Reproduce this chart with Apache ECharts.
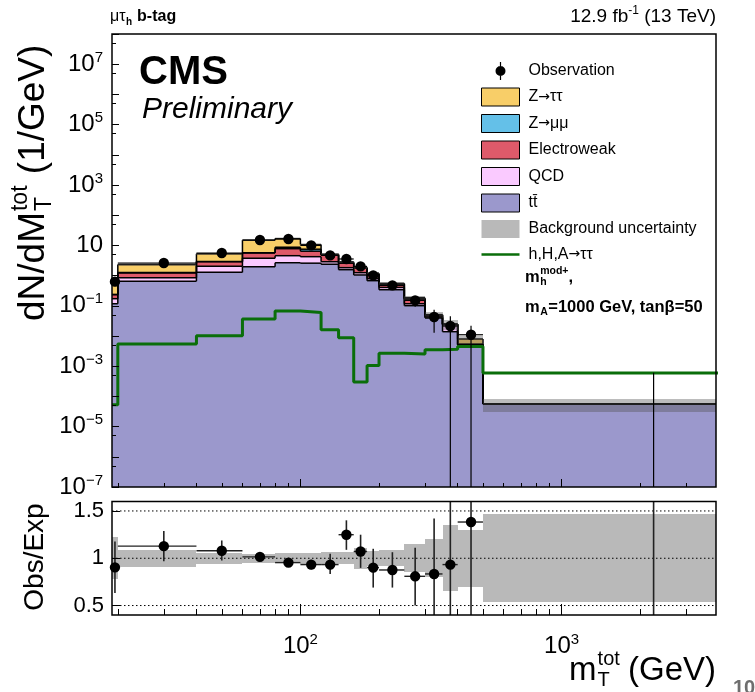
<!DOCTYPE html>
<html><head><meta charset="utf-8">
<script src="https://cdn.jsdelivr.net/npm/echarts@6/dist/echarts.min.js"></script>
<style>html,body{margin:0;padding:0;background:#fff}#c{width:755px;height:692px}</style>
</head><body><div id="c"></div>
<script>
// ---------------- data ----------------
const binEdges = [19, 20, 40, 60, 80, 100, 120, 140, 160, 180, 200, 250, 300, 350, 400, 500, 4000];
const ttbar = [0.117, 0.653, 1.28, 1.97, 2.67, 2.58, 2.38, 1.57, 1.05, 0.68, 0.341, 0.101, 0.0394, 0.0139, 0.00496, 5.5e-5];
const qcd   = [0.055, 0.20, 0.77, 1.80, 1.89, 1.65, 0.50, 0.26, 0.20, 0.11, 0.065, 0.016, 0.003, 0.0098, 0.0001, 5e-7];
const ewk   = [0.061, 0.37, 0.83, 1.80, 3.22, 2.20, 1.85, 0.75, 0.51, 0.30, 0.105, 0.049, 0.006, 0.0006, 0.0002, 5e-7];
const zmm   = [0.005, 0.047, 0.07, 0.16, 0.92, 1.05, 0.12, 0.08, 0.04, 0.03, 0.012, 0.006, 0.0006, 0.0002, 0.0001, 2e-7];
const ztt   = [0.46, 1.08, 2.30, 9.17, 8.1, 3.2, 0.25, 0.20, 0.10, 0.08, 0.027, 0.014, 0.002, 0.0005, 0.0026, 3e-7];
const bkgUnc = [0.22, 0.09, 0.06, 0.045, 0.055, 0.06, 0.065, 0.065, 0.11, 0.08, 0.085, 0.15, 0.2, 0.35, 0.3, 0.465];
const signal = [5.3e-5, 5.4e-3, 0.0102, 0.0366, 0.0673, 0.0604, 0.0162, 0.0088, 3.0e-4, 1.06e-3, 2.67e-3, 2.53e-3, 3.5e-3, 3.65e-3, 4.5e-3, 5.9e-4];
const obs     = [0.63, 2.61, 5.6, 15.1, 16.3, 10.0, 4.67, 3.55, 2.02, 1.02, 0.473, 0.151, 0.0426, 0.0214, 0.0110, 0];
const obsLow  = [0.44, 2.28, 5.12, 14.5, 15.8, 9.5, 4.25, 3.1, 1.7, 0.83, 0.38, 0.093, 0.0129, 0, 0, 0];
const obsHigh = [0.82, 3.02, 6.24, 15.7, 16.8, 10.5, 5.34, 4.0, 2.37, 1.32, 0.585, 0.206, 0.074, 0.0447, 0.0219, 0.00061];
const ratio     = [0.904, 1.128, 1.079, 1.015, 0.954, 0.933, 0.933, 1.249, 1.071, 0.901, 0.876, 0.809, 0.834, 0.933, 1.383, 0];
const ratioLow  = [0.632, 0.968, 0.976, 0.975, 0.925, 0.883, 0.834, 1.089, 0.898, 0.69, 0.69, 0.50, 0.25, 0, 0, 0];
const ratioHigh = [1.178, 1.287, 1.188, 1.055, 0.985, 0.983, 1.047, 1.401, 1.249, 1.10, 1.064, 1.11, 1.42, 1.8, 2.7, 10];
const xMajorTicks = [100, 1000];
const xMinorTicks = [20, 30, 40, 50, 60, 70, 80, 90, 200, 300, 400, 500, 600, 700, 800, 900, 2000, 3000];
const yMajorTicks = [1e-7, 1e-6, 1e-5, 1e-4, 1e-3, 1e-2, 1e-1, 1, 10, 1e2, 1e3, 1e4, 1e5, 1e6, 1e7, 1e8];
const yMinorTicks = [5e-7, 5e-6, 5e-5, 5e-4, 5e-3, 5e-2, 0.5, 5, 50, 5e2, 5e3, 5e4, 5e5, 5e6, 5e7];
const yTickLabels = [1e7, 1e5, 1e3, 10, 1e-1, 1e-3, 1e-5, 1e-7];
const ratioTickLabels = [0.5, 1, 1.5];
const ratioRefLines = [0.5, 1, 1.5];
const layerNames = ['tt\u0304', 'QCD', 'Electroweak', 'Z\u2192\u03bc\u03bc', 'Z\u2192\u03c4\u03c4'];
const layerColors = ['#9b98cc', '#facaff', '#de5a6a', '#64c0e8', '#f8ce68'];

// ---------------- setup ----------------
const FONT = "'Liberation Sans', Arial, Helvetica, sans-serif";
const XMIN = 19, XMAX = 3900, YMIN = 1e-7, YMAX = 1e8, RMIN = 0.4, RMAX = 1.6;
const nb = binEdges.length - 1;
const layers = [ttbar, qcd, ewk, zmm, ztt];
const cum = [];
let run = new Array(nb).fill(0);
layers.forEach(arr => { run = run.map((v, i) => v + arr[i]); cum.push(run.slice()); });
const total = cum[cum.length - 1];
const cx = v => Math.min(Math.max(v, XMIN), XMAX);
const center = i => (binEdges[i] + binEdges[i + 1]) / 2;
const R = Math.round;

const mctx = document.createElement('canvas').getContext('2d');
function tw(t, size, weight) { mctx.font = (weight || 'normal') + ' ' + size + 'px ' + FONT; return mctx.measureText(t).width; }

function boxFrom(a, b) {
  const x0 = R(a[0]), x1 = R(b[0]), y0 = R(a[1]), y1 = R(b[1]);
  return { x: x0, y: y0, width: x1 - x0, height: y1 - y0 };
}

function layerRender(k) {
  return function (params, api) {
    const i = api.value(2);
    const x0 = cx(binEdges[i]), x1 = cx(binEdges[i + 1]);
    const lo = k === 0 ? YMIN : cum[k - 1][i];
    const hi = cum[k][i];
    const a = api.coord([x0, hi]), b = api.coord([x1, lo]);
    const ch = [
      { type: 'rect', z2: 0, shape: boxFrom(a, b), style: { fill: api.visual('color') } },
      { type: 'line', z2: 10, shape: { x1: a[0], y1: a[1], x2: b[0], y2: a[1] }, style: { stroke: '#000', lineWidth: 1.5 } }
    ];
    if (i > 0) {
      const p = api.coord([x0, cum[k][i - 1]]);
      ch.push({ type: 'line', z2: 10, shape: { x1: a[0], y1: p[1], x2: a[0], y2: a[1] }, style: { stroke: '#000', lineWidth: 1.5 } });
    }
    return { type: 'group', children: ch };
  };
}

function obsRender(vals, lows, highs, ymin, ymax, r, vw, hw, vcol) {
  return function (params, api) {
    const i = api.value(2);
    const xc = center(i);
    const lo = Math.max(lows[i], ymin), hi = Math.min(highs[i], ymax);
    const a = api.coord([xc, lo]), b = api.coord([xc, hi]);
    const ch = [{ type: 'line', shape: { x1: a[0], y1: a[1], x2: b[0], y2: b[1] }, style: { stroke: vcol, lineWidth: vw } }];
    const v = vals[i];
    if (v > ymin && v < ymax) {
      const l = api.coord([cx(binEdges[i]), v]), rr = api.coord([cx(binEdges[i + 1]), v]);
      ch.push({ type: 'line', shape: { x1: l[0], y1: l[1], x2: rr[0], y2: rr[1] }, style: { stroke: vcol, lineWidth: hw } });
      const p = api.coord([xc, v]);
      ch.push({ type: 'circle', shape: { cx: p[0], cy: p[1], r: r }, style: { fill: '#000' } });
    }
    return { type: 'group', children: ch };
  };
}

const series = [];
layers.forEach((arr, k) => {
  series.push({
    type: 'custom', name: layerNames[k], xAxisIndex: 0, yAxisIndex: 0, z: 2,
    itemStyle: { color: layerColors[k] },
    encode: { x: 0, y: 1 },
    data: binEdges.slice(0, -1).map((e, i) => [center(i), cum[k][i], i]),
    renderItem: layerRender(k), silent: true
  });
});
series.push({
  type: 'custom', name: 'Background uncertainty', xAxisIndex: 0, yAxisIndex: 0, z: 3,
  itemStyle: { color: 'rgba(80,80,80,0.38)' }, encode: { x: 0, y: 1 }, silent: true,
  data: binEdges.slice(0, -1).map((e, i) => [center(i), total[i], i]),
  renderItem: function (params, api) {
    const i = api.value(2);
    const a = api.coord([cx(binEdges[i]), total[i] * (1 + bkgUnc[i])]);
    const b = api.coord([cx(binEdges[i + 1]), total[i] * (1 - bkgUnc[i])]);
    return { type: 'rect', shape: boxFrom(a, b), style: { fill: 'rgba(80,80,80,0.38)' } };
  }
});
const sigData = binEdges.slice(0, -1).map((e, i) => [e, signal[i]]);
sigData.push([binEdges[nb], signal[nb - 1]]);
series.push({
  type: 'line', name: 'h,H,A\u2192\u03c4\u03c4', xAxisIndex: 0, yAxisIndex: 0, z: 4, step: 'end',
  symbol: 'none', showSymbol: false, data: sigData, silent: true,
  lineStyle: { color: '#0a6e0a', width: 3 }, itemStyle: { color: '#0a6e0a' }
});
series.push({
  type: 'custom', name: 'Observation', xAxisIndex: 0, yAxisIndex: 0, z: 5, silent: true,
  itemStyle: { color: '#000' }, encode: { x: 0, y: 1 },
  data: binEdges.slice(0, -1).map((e, i) => [center(i), obs[i] > 0 ? obs[i] : YMIN, i]),
  renderItem: obsRender(obs, obsLow, obsHigh, YMIN, YMAX, 5.2, 1.2, 1.2, '#000')
});
// ratio panel
series.push({
  type: 'custom', name: 'ratioBand', xAxisIndex: 2, yAxisIndex: 2, z: 2, silent: true,
  itemStyle: { color: '#b9b9b9' }, encode: { x: 0, y: 1 },
  data: binEdges.slice(0, -1).map((e, i) => [center(i), 1, i]),
  renderItem: function (params, api) {
    const i = api.value(2);
    const a = api.coord([cx(binEdges[i]), Math.min(1 + bkgUnc[i], RMAX)]);
    const b = api.coord([cx(binEdges[i + 1]), Math.max(1 - bkgUnc[i], RMIN)]);
    return { type: 'rect', shape: boxFrom(a, b), style: { fill: '#b9b9b9' } };
  }
});
ratioRefLines.forEach(v => {
  series.push({
    type: 'line', name: 'ref' + v, xAxisIndex: 2, yAxisIndex: 2, z: 3, silent: true, symbol: 'none',
    data: [[XMIN, v], [XMAX, v]], lineStyle: { color: '#000', width: 1, type: [1.5, 2.5] }
  });
});
series.push({
  type: 'custom', name: 'ratioObs', xAxisIndex: 2, yAxisIndex: 2, z: 5, silent: true,
  itemStyle: { color: '#000' }, encode: { x: 0, y: 1 },
  data: binEdges.slice(0, -1).map((e, i) => [center(i), ratio[i], i]),
  renderItem: obsRender(ratio, ratioLow, ratioHigh, RMIN, RMAX, 5.2, 1.6, 1.4, '#222')
});

// ---------------- axes ----------------
const richTick = { b: { fontSize: 24, fontFamily: FONT, color: '#000', lineHeight: 28 }, s: { fontSize: 15, fontFamily: FONT, color: '#000', verticalAlign: 'top', lineHeight: 15 } };
function xAx(grid, ticks, len, labels) {
  return {
    type: 'log', logBase: 10, gridIndex: grid, position: 'bottom', min: XMIN, max: XMAX, z: 20,
    axisLine: { show: false }, splitLine: { show: false },
    axisTick: { show: true, inside: true, length: len, customValues: ticks, lineStyle: { color: '#000', width: 1 } },
    axisLabel: labels ? {
      show: true, customValues: labels, margin: 17,
      formatter: v => '{b|10}{s|' + Math.round(Math.log10(v)) + '}', rich: richTick
    } : { show: false }
  };
}
function yLog(ticks, len, labels) {
  return {
    type: 'log', logBase: 10, gridIndex: 0, position: 'left', min: YMIN, max: YMAX, z: 20,
    axisLine: { show: false }, splitLine: { show: false },
    axisTick: { show: true, inside: true, length: len, customValues: ticks, lineStyle: { color: '#000', width: 1 } },
    axisLabel: labels ? {
      show: true, customValues: labels, margin: 9,
      formatter: v => { const e = Math.round(Math.log10(v)); return e === 1 ? '{b|10}' : '{b|10}{s|' + (e < 0 ? '\u2212' + (-e) : e) + '}'; },
      rich: richTick
    } : { show: false }
  };
}

// ---------------- texts ----------------
const graphics = [];
function txt(t, x, y, size, opts) {
  opts = opts || {};
  return { type: 'text', x: x, y: y, silent: true, style: { text: t, fill: opts.fill || '#000', font: (opts.style || 'normal') + ' ' + (opts.weight || 'normal') + ' ' + size + 'px ' + FONT, align: opts.align || 'left', verticalAlign: 'middle' } };
}
graphics.push(txt('CMS', 139, 72.5, 40, { weight: 'bold' }));
graphics.push(txt('Preliminary', 142, 110, 30, { style: 'italic' }));
(function () {
  let x = 110; const y = 17;
  graphics.push(txt('\u03bc\u03c4', x, y, 16)); x += tw('\u03bc\u03c4', 16);
  graphics.push(txt('h', x + 0.5, y + 5, 10, { weight: 'bold' })); x += tw('h', 10, 'bold') + 1;
  graphics.push(txt(' b-tag', x, y, 16, { weight: 'bold' }));
})();
(function () {
  const y = 17, F = 19, S = 12;
  const p1 = '12.9 fb', p2 = '-1', p3 = ' (13 TeV)';
  const w3 = tw(p3, F), w2 = tw(p2, S), w1 = tw(p1, F);
  let x = 716 - w3 - w2 - w1;
  graphics.push(txt(p1, x, y, F)); x += w1;
  graphics.push(txt(p2, x, y - 6, S)); x += w2;
  graphics.push(txt(p3, x, y, F));
})();
(function () {
  const F = 37, S = 23;
  const parts = [];
  const w1 = tw('dN/dM', F);
  parts.push(txt('dN/dM', 0, 0, F));
  parts.push(txt('tot', w1 + 1, -F * 0.36, S));
  parts.push(txt('T', w1 + 1, F * 0.3, S));
  const w2 = Math.max(tw('tot', S), tw('T', S));
  parts.push(txt(' (1/GeV)', w1 + w2 + 2, 0, F));
  graphics.push({ type: 'group', x: 34, y: 321, rotation: Math.PI / 2, children: parts });
})();
graphics.push({ type: 'group', x: 35, y: 557, rotation: Math.PI / 2, children: [txt('Obs/Exp', 0, 0, 28, { align: 'center' })] });
(function () {
  const F = 33, S = 20, y = 671;
  const wm = tw('m', F), ws = Math.max(tw('tot', S), tw('T', S)), wg = tw(' (GeV)', F);
  let x = 716 - wm - ws - wg;
  graphics.push(txt('m', x, y, F)); x += wm + 1;
  graphics.push(txt('tot', x, y - F * 0.36, S));
  graphics.push(txt('T', x, y + F * 0.3, S)); x += ws - 1;
  graphics.push(txt(' (GeV)', x, y, F));
})();
(function () {
  const F = 16.5, S = 10.5;
  let x = 525, y = 277;
  graphics.push(txt('m', x, y, F, { weight: 'bold' })); x += tw('m', F, 'bold') + 0.5;
  graphics.push(txt('mod+', x, y - 6, S, { weight: 'bold' }));
  graphics.push(txt('h', x, y + 5, S, { weight: 'bold' }));
  x += tw('mod+', S, 'bold');
  graphics.push(txt(',', x, y, F, { weight: 'bold' }));
  x = 525; y = 307;
  graphics.push(txt('m', x, y, F, { weight: 'bold' })); x += tw('m', F, 'bold') + 0.5;
  graphics.push(txt('A', x, y + 5, S, { weight: 'bold' })); x += tw('A', S, 'bold') + 0.5;
  graphics.push(txt('=1000 GeV, tan\u03b2=50', x, y, F, { weight: 'bold' }));
})();
graphics.push(txt('10', 733, 688, 20, { weight: 'bold', fill: '#6e6e6e' }));

// ---------------- legend ----------------
const obsIcon = 'path://M0,9L0.01,9ZM38,9L37.99,9ZM18.4,0L19.6,0L19.6,18L18.4,18ZM24,9A5,5,0,1,1,14,9A5,5,0,1,1,24,9Z';
const lineIcon = 'path://M0,0L0.01,0ZM0,18L0.01,18ZM0,7.7L38,7.7L38,10.3L0,10.3Z';

const option = {
  animation: false,
  textStyle: { fontFamily: FONT },
  grid: [
    { left: 112, top: 34, width: 604, height: 453, show: true, borderColor: '#000', borderWidth: 1.5, backgroundColor: 'rgba(0,0,0,0)', z: 20 },
    { left: 112, top: 501.5, width: 604, height: 113.5, show: true, borderColor: '#000', borderWidth: 1.5, backgroundColor: 'rgba(0,0,0,0)', z: 20 }
  ],
  xAxis: [
    xAx(0, xMajorTicks, 8, null),
    xAx(0, xMinorTicks, 4, null),
    xAx(1, xMajorTicks, 11, xMajorTicks),
    xAx(1, xMinorTicks, 6, null)
  ],
  yAxis: [
    yLog(yMajorTicks, 7, yTickLabels),
    yLog(yMinorTicks, 4, null),
    {
      type: 'value', gridIndex: 1, position: 'left', min: RMIN, max: RMAX, z: 20,
      axisLine: { show: false }, splitLine: { show: false },
      axisTick: { show: true, inside: true, length: 8, customValues: ratioTickLabels, lineStyle: { color: '#000' } },
      axisLabel: { show: true, customValues: ratioTickLabels, margin: 8, fontSize: 22, fontFamily: FONT, color: '#000', formatter: v => String(v) }
    }
  ],
  legend: {
    left: 481, top: 62, padding: 0, orient: 'vertical', itemWidth: 38, itemHeight: 18, itemGap: 7.5, selectedMode: false,
    textStyle: { fontFamily: FONT, fontSize: 16, color: '#000', padding: [0, 0, 0, 4],
      rich: { arr: { fontFamily: "'DejaVu Sans'", fontSize: 14, color: '#000' } } },
    formatter: name => name.replace('\u2192', '{arr|\u2192}'),
    itemStyle: { borderColor: '#000', borderWidth: 1 },
    data: [
      { name: 'Observation', icon: obsIcon, itemStyle: { borderWidth: 0, color: '#000' } },
      { name: layerNames[4], icon: 'rect' },
      { name: layerNames[3], icon: 'rect' },
      { name: layerNames[2], icon: 'rect' },
      { name: layerNames[1], icon: 'rect' },
      { name: layerNames[0], icon: 'rect' },
      { name: 'Background uncertainty', icon: 'rect', itemStyle: { borderWidth: 0, color: '#b9b9b9' } },
      { name: 'h,H,A\u2192\u03c4\u03c4', icon: lineIcon, itemStyle: { borderWidth: 0, color: '#0a6e0a' } }
    ]
  },
  graphic: graphics,
  series: series
};
const chart = echarts.init(document.getElementById('c'), null, { renderer: 'canvas' });
chart.setOption(option);
</script>
</body></html>
